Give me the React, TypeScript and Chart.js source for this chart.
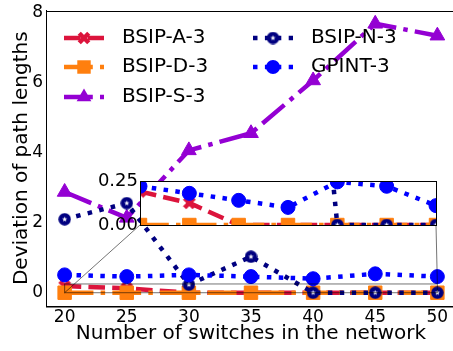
import { useEffect, useRef } from "react";
import { Chart, registerables } from "chart.js";

Chart.register(...registerables);

// x: number of switches
const switches = [20, 25, 30, 35, 40, 45, 50];
const xTicks = [20, 25, 30, 35, 40, 45, 50];
const yTicks = [0, 2, 4, 6, 8];

// main panel: deviation of path lengths
const bsipA = [0.19, 0.125, 0, 0, 0, 0, 0];
const bsipD = [0, 0, 0, 0, 0, 0, 0];
const bsipS = [2.88, 2.14, 4.07, 4.56, 6.07, 7.69, 7.35];
const bsipN = [2.1, 2.56, 0.23, 1.03, 0, 0, 0];
const gpint = [0.51, 0.46, 0.51, 0.46, 0.4, 0.54, 0.46];

// zoomed panel (0 .. 0.25)
const zoomA = [0.19, 0.125, 0, 0, 0, 0, 0];
const zoomD = [0, 0, 0, 0, 0, 0, 0];
const zoomS = [2.88, 2.14, 4.07, 4.56, 6.07, 7.69, 7.35];
const zoomN = [2.1, 2.56, 1.0, 2.8, 0, 0, 0];
const zoomGpint = [0.22, 0.18, 0.14, 0.1, 0.245, 0.22, 0.11];
const zoomYTicks = [0, 0.25];

const FONT = "DejaVu Sans";
const CANVAS_W = 470;
const CANVAS_H = 351;
// zoom panel placement (page coordinates)
const INSET_CANVAS = { left: 70, top: 161, width: 380, height: 80 };
const INSET_PAD = { left: 0, top: 20, right: 14, bottom: 16 };
const INSET_Y_W = 70;
const INSET_BOX = {
  left: INSET_CANVAS.left + INSET_Y_W,
  top: INSET_CANVAS.top + INSET_PAD.top,
  right: INSET_CANVAS.left + INSET_CANVAS.width - INSET_PAD.right,
  bottom: INSET_CANVAS.top + INSET_CANVAS.height - INSET_PAD.bottom,
};

type Marker = "x" | "rect" | "triangle" | "star" | "circle";
type SeriesStyle = {
  label: string;
  color: string;
  width: number;
  dash: number[];
  marker: Marker;
  radius: number;
};

const DASHED = [16.6, 7.2];
const DASHDOT = [28.8, 7.2, 4.5, 7.2];
const DOTTED = [4.5, 7.4];

const STYLES: SeriesStyle[] = [
  { label: "BSIP-A-3", color: "#dc143c", width: 4.5, dash: DASHED, marker: "x", radius: 7 },
  { label: "BSIP-D-3", color: "#ff7f0e", width: 4.5, dash: DASHDOT, marker: "rect", radius: 9.5 },
  { label: "BSIP-S-3", color: "#9400d3", width: 4.5, dash: DASHDOT, marker: "triangle", radius: 8.5 },
  { label: "BSIP-N-3", color: "#000080", width: 4.5, dash: DOTTED, marker: "star", radius: 6 },
  { label: "GPINT-3", color: "#0000ff", width: 4.5, dash: DOTTED, marker: "circle", radius: 7 },
];

const LEGEND_COL_X = [64, 253];
const LEGEND_ROW_Y = [38, 67, 97];

function xMarker(color: string, size: number): HTMLCanvasElement {
  const c = document.createElement("canvas");
  c.width = size;
  c.height = size;
  const g = c.getContext("2d")!;
  g.strokeStyle = color;
  g.lineWidth = size * 0.32;
  const m = size * 0.16;
  g.beginPath();
  g.moveTo(m, m);
  g.lineTo(size - m, size - m);
  g.moveTo(size - m, m);
  g.lineTo(m, size - m);
  g.stroke();
  return c;
}

function starDisc(color: string, size: number): HTMLCanvasElement {
  const c = document.createElement("canvas");
  c.width = size;
  c.height = size;
  const g = c.getContext("2d")!;
  const r = size / 2;
  g.fillStyle = color;
  g.beginPath();
  g.arc(r, r, r - 0.3, 0, Math.PI * 2);
  g.fill();
  g.fillStyle = "#ffffff";
  g.beginPath();
  const outer = r * 0.42;
  const inner = outer * 0.42;
  for (let k = 0; k < 10; k++) {
    const a = -Math.PI / 2 + (k * Math.PI) / 5;
    const rr = k % 2 === 0 ? outer : inner;
    const px = r + Math.cos(a) * rr;
    const py = r + Math.sin(a) * rr;
    if (k === 0) g.moveTo(px, py);
    else g.lineTo(px, py);
  }
  g.closePath();
  g.fill();
  return c;
}

function drawMarker(
  ctx: CanvasRenderingContext2D,
  st: SeriesStyle,
  img: HTMLCanvasElement | null,
  x: number,
  y: number
) {
  ctx.save();
  ctx.fillStyle = st.color;
  ctx.strokeStyle = st.color;
  ctx.lineWidth = 1;
  ctx.setLineDash([]);
  if (img) {
    ctx.drawImage(img, x - img.width / 2, y - img.height / 2);
  } else if (st.marker === "rect") {
    const s = st.radius * Math.SQRT1_2;
    ctx.fillRect(x - s, y - s, 2 * s, 2 * s);
  } else if (st.marker === "triangle") {
    ctx.beginPath();
    for (let k = 0; k < 3; k++) {
      const a = (k * 2 * Math.PI) / 3;
      const px = x + Math.sin(a) * st.radius;
      const py = y - Math.cos(a) * st.radius;
      if (k === 0) ctx.moveTo(px, py);
      else ctx.lineTo(px, py);
    }
    ctx.closePath();
    ctx.fill();
  } else {
    ctx.beginPath();
    ctx.arc(x, y, st.radius, 0, Math.PI * 2);
    ctx.fill();
  }
  ctx.restore();
}

function buildDatasets(values: number[][], imgs: Record<string, HTMLCanvasElement>, clip?: number) {
  return STYLES.map((st, i) => ({
    label: st.label,
    data: switches.map((x, j) => ({ x, y: values[i][j] })),
    borderColor: st.color,
    backgroundColor: st.color,
    borderWidth: st.width,
    borderDash: st.dash,
    borderCapStyle: "butt" as const,
    pointStyle: (imgs[st.marker] ?? st.marker) as any,
    pointRadius: st.radius,
    pointHoverRadius: st.radius,
    pointBorderWidth: 1,
    pointBorderColor: st.color,
    pointBackgroundColor: st.color,
    tension: 0,
    fill: false,
    order: STYLES.length - i,
    ...(clip !== undefined ? { clip } : {}),
  }));
}

export default function App() {
  const mainRef = useRef<HTMLCanvasElement>(null);
  const zoomRef = useRef<HTMLCanvasElement>(null);

  useEffect(() => {
    if (!mainRef.current || !zoomRef.current) return;
    const imgs: Record<string, HTMLCanvasElement> = {
      x: xMarker("#dc143c", 14),
      star: starDisc("#000080", 13),
    };

    const framePlugin = {
      id: "frame",
      afterDatasetsDraw(chart: any) {
        const { ctx, chartArea: a } = chart;
        ctx.save();
        ctx.strokeStyle = "#000";
        ctx.lineWidth = 1;
        ctx.strokeRect(Math.round(a.left) + 0.5, Math.round(a.top) + 0.5, a.right - a.left, a.bottom - a.top);
        ctx.restore();
      },
    };

    const indicatorPlugin = {
      id: "zoomIndicator",
      afterDatasetsDraw(chart: any) {
        const { ctx } = chart;
        const xs = chart.scales.x;
        const ys = chart.scales.y;
        const x0 = xs.getPixelForValue(20);
        const x1 = xs.getPixelForValue(50);
        const y0 = ys.getPixelForValue(0);
        const y1 = ys.getPixelForValue(0.25);
        ctx.save();
        ctx.strokeStyle = "rgba(0,0,0,0.55)";
        ctx.lineWidth = 1;
        ctx.strokeRect(x0, y1, x1 - x0, y0 - y1);
        ctx.beginPath();
        ctx.moveTo(x0, y0);
        ctx.lineTo(INSET_BOX.left, INSET_BOX.bottom);
        ctx.moveTo(x1, y1);
        ctx.lineTo(INSET_BOX.right, INSET_BOX.bottom);
        ctx.stroke();
        ctx.restore();
      },
    };

    const keyPlugin = {
      id: "seriesKey",
      afterDraw(chart: any) {
        const { ctx } = chart;
        STYLES.forEach((st, i) => {
          const col = i < 3 ? 0 : 1;
          const row = i < 3 ? i : i - 3;
          const x = LEGEND_COL_X[col];
          const y = LEGEND_ROW_Y[row];
          ctx.save();
          ctx.strokeStyle = st.color;
          ctx.lineWidth = st.width;
          ctx.lineCap = "butt";
          ctx.setLineDash(st.dash);
          ctx.beginPath();
          ctx.moveTo(x, y);
          ctx.lineTo(x + 40, y);
          ctx.stroke();
          ctx.restore();
          drawMarker(ctx, st, imgs[st.marker] ?? null, x + 20, y);
          ctx.save();
          ctx.fillStyle = "#000";
          ctx.font = `20px "${FONT}"`;
          ctx.textBaseline = "middle";
          ctx.fillText(st.label, x + 58, y);
          ctx.restore();
        });
      },
    };

    const main = new Chart(mainRef.current, {
      type: "line",
      data: {
        datasets: buildDatasets([bsipA, bsipD, bsipS, bsipN, gpint], imgs) as any,
      },
      options: {
        responsive: false,
        maintainAspectRatio: false,
        animation: false,
        devicePixelRatio: 1,
        events: [],
        layout: { padding: { top: 10, right: CANVAS_W - 456, left: 0, bottom: 0 } },
        plugins: { legend: { display: false }, tooltip: { enabled: false } },
        scales: {
          x: {
            type: "linear",
            min: 18.5,
            max: 51.5,
            afterBuildTicks: (s: any) => {
              s.ticks = xTicks.map((v) => ({ value: v }));
            },
            afterFit: (s: any) => {
              s.height = 45;
              s.paddingLeft = 0;
              s.paddingRight = 0;
            },
            grid: { display: false, drawTicks: false },
            border: { display: true, color: "#000", width: 1 },
            ticks: { font: { family: FONT, size: 17 }, color: "#000", padding: 1, maxRotation: 0 },
            title: {
              display: true,
              text: "Number of switches in the network",
              font: { family: FONT, size: 20 },
              color: "#000",
              padding: { top: 0, bottom: 5 },
            },
          },
          y: {
            type: "linear",
            min: -0.38,
            max: 8.07,
            afterBuildTicks: (s: any) => {
              s.ticks = yTicks.map((v) => ({ value: v }));
            },
            afterFit: (s: any) => {
              s.width = 46;
              s.paddingTop = 0;
              s.paddingBottom = 0;
            },
            grid: { display: false, drawTicks: false },
            border: { display: true, color: "#000", width: 1 },
            ticks: { font: { family: FONT, size: 17 }, color: "#000", padding: 3 },
            title: {
              display: true,
              text: "Deviation of path lengths",
              font: { family: FONT, size: 20 },
              color: "#000",
              padding: { top: 10, bottom: 0 },
            },
          },
        },
      },
      plugins: [indicatorPlugin, framePlugin, keyPlugin],
    });

    const panelBg = {
      id: "panelBg",
      beforeDatasetsDraw(chart: any) {
        const { ctx, chartArea: a } = chart;
        ctx.save();
        ctx.fillStyle = "#fff";
        ctx.fillRect(a.left, a.top, a.right - a.left, a.bottom - a.top);
        ctx.restore();
      },
    };

    const zoom = new Chart(zoomRef.current, {
      type: "line",
      data: {
        datasets: buildDatasets([zoomA, zoomD, zoomS, zoomN, zoomGpint], imgs, 0) as any,
      },
      options: {
        responsive: false,
        maintainAspectRatio: false,
        animation: false,
        devicePixelRatio: 1,
        events: [],
        layout: { padding: INSET_PAD },
        plugins: { legend: { display: false }, tooltip: { enabled: false } },
        scales: {
          x: { type: "linear", min: 20, max: 50, display: false },
          y: {
            type: "linear",
            min: 0,
            max: 0.25,
            afterBuildTicks: (s: any) => {
              s.ticks = zoomYTicks.map((v) => ({ value: v }));
            },
            afterFit: (s: any) => {
              s.width = INSET_Y_W;
              s.paddingTop = 0;
              s.paddingBottom = 0;
            },
            grid: { display: false, drawTicks: false },
            border: { display: false },
            ticks: {
              font: { family: FONT, size: 18 },
              color: "#000",
              padding: 2,
              callback: (v: any) => Number(v).toFixed(2),
            },
          },
        },
      },
      plugins: [panelBg, framePlugin],
    });

    return () => {
      main.destroy();
      zoom.destroy();
    };
  }, []);

  return (
    <div
      style={{
        position: "absolute",
        left: 0,
        top: 0,
        width: 453,
        height: 351,
        overflow: "hidden",
        background: "#fff",
      }}
    >
      <canvas
        ref={mainRef}
        width={CANVAS_W}
        height={CANVAS_H}
        style={{ position: "absolute", left: 0, top: 0, width: CANVAS_W, height: CANVAS_H }}
      />
      <canvas
        ref={zoomRef}
        width={INSET_CANVAS.width}
        height={INSET_CANVAS.height}
        style={{
          position: "absolute",
          left: INSET_CANVAS.left,
          top: INSET_CANVAS.top,
          width: INSET_CANVAS.width,
          height: INSET_CANVAS.height,
        }}
      />
    </div>
  );
}
